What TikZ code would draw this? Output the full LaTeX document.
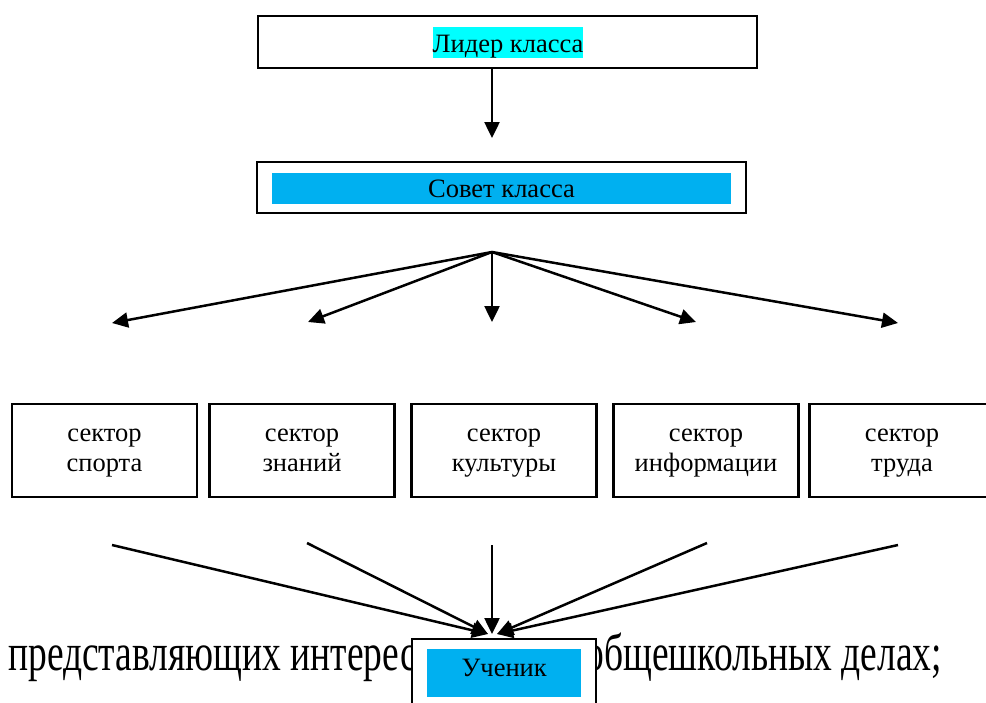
\documentclass[tikz,border=0pt]{standalone}
\usepackage{fontspec}
\setmainfont{Liberation Serif}
\usetikzlibrary{arrows.meta}
\definecolor{hlcyan}{HTML}{00FFFF}
\definecolor{hlblue}{HTML}{00B0F0}
\begin{document}
\begin{tikzpicture}[x=1pt,y=-1pt,
  frame/.style={draw=black,line width=2.2pt,fill=white,inner sep=0pt},
  sectorbox/.style={frame,minimum width=185pt,minimum height=93pt,align=center,
    text height=48.5pt,text depth=6.5pt,font=\fontsize{26.5}{30}\selectfont},
  arr/.style={line width=2.5pt,-{Triangle[length=16pt,width=15pt]}},
  lbl/.style={font=\fontsize{26.5}{30}\selectfont,inner sep=0pt}]
\useasboundingbox (0,0) rectangle (986,702);
\fill[white] (0,0) rectangle (986,702);
% bottom running text (partly covered)
\node[anchor=base west,inner sep=0pt,yscale=1.4,font=\fontsize{37.5}{40}\selectfont] (tl) at (8,670) {представляющих интерес};
\node[anchor=base east,inner sep=0pt,yscale=1.4,font=\fontsize{37.5}{40}\selectfont] (tr) at (942,670) {общешкольных делах;};
% top box
\node[frame,minimum width=499pt,minimum height=52pt] (lead) at (507.5,42) {};
\node[lbl,fill=hlcyan,text height=25pt,text depth=6pt] (leadt) at (508,42.5) {Лидер класса};
% council box
\node[frame,minimum width=489pt,minimum height=51pt] (sov) at (501.5,187.5) {};
\node[lbl,fill=hlblue,minimum width=459pt,text height=24pt,text depth=7pt] (sovt) at (501.5,188.5) {Совет класса};
% arrow lead -> council
\coordinate (fan) at (492,252);
\coordinate (t1) at (492,138);
\draw[arr] (lead.south -| fan) -- (t1);
% fan arrows
\coordinate (s1) at (112,323);
\coordinate (s2) at (308,322);
\coordinate (s3) at (492,322);
\coordinate (s4) at (696,322);
\coordinate (s5) at (898,323);
\foreach \s in {s1,s2,s3,s4,s5} \draw[arr] (fan) -- (\s);
% sector boxes
\node[sectorbox] (k1) at (104.5,450.5) {сектор\\спорта};
\node[sectorbox] (k2) at (302,450.5) {сектор\\знаний};
\node[sectorbox] (k3) at (504,450.5) {сектор\\культуры};
\node[sectorbox] (k4) at (706,450.5) {сектор\\информации};
\node[sectorbox,minimum width=200pt] (k5) at (909.5,450.5) {\hspace*{-15pt}сектор\\\hspace*{-15pt}труда};
% converging arrows
\coordinate (b1) at (112,545);
\coordinate (b2) at (307,543);
\coordinate (b3) at (492,545);
\coordinate (b4) at (707,543);
\coordinate (b5) at (898,545);
\coordinate (u) at (492,634);
\coordinate (ul) at (488,634);
\coordinate (ur) at (497,634);
\draw[arr] (b1) -- (ul);
\draw[arr] (b2) -- (ul);
\draw[arr] (b5) -- (ur);
\draw[arr] (b4) -- (ur);
\draw[arr] (b3) -- (u);
% pupil box
\node[frame,minimum width=184pt,minimum height=80pt,anchor=north west] (uch) at (411,638) {};
\node[lbl,fill=hlblue,minimum width=154pt,text height=27pt,text depth=21pt,anchor=north west] (ucht) at (427,649) {Ученик};
\end{tikzpicture}
\end{document}
